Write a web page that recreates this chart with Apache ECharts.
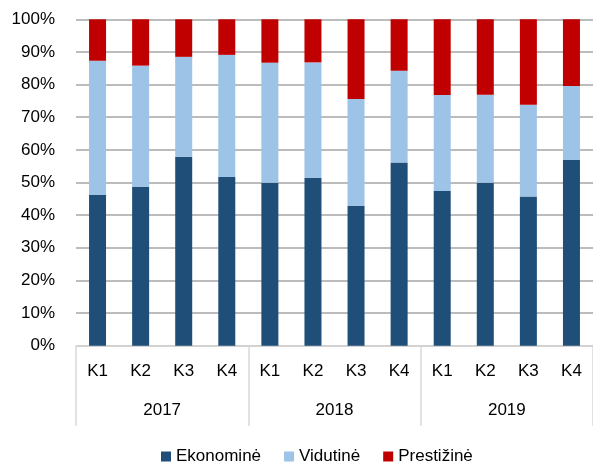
<!DOCTYPE html>
<html>
<head>
<meta charset="utf-8">
<script src="https://cdn.jsdelivr.net/npm/echarts@6/dist/echarts.min.js"></script>
<style>html,body{margin:0;padding:0;background:#fff}#c{width:593px;height:467px}</style>
</head>
<body>
<div id="c"></div>
<script>
var quarters = ['K1','K2','K3','K4','K1','K2','K3','K4','K1','K2','K3','K4'];
var years = ['2017','2018','2019'];
var ekonomine = [46.2, 48.6, 57.9, 51.7, 49.9, 51.4, 42.8, 56.1, 47.4, 49.9, 45.7, 56.9];
var vidutine  = [41.1, 37.2, 30.6, 37.4, 36.8, 35.4, 32.8, 28.1, 29.4, 27.0, 28.1, 22.7];
var prestizine = [12.7, 14.2, 11.5, 10.9, 13.3, 13.2, 24.4, 15.8, 23.2, 23.1, 26.2, 20.4];
var seriesNames = ['Ekonominė', 'Vidutinė', 'Prestižinė'];
var colors = ['#1f4e79', '#9dc3e6', '#c00000'];

var FONT = "'Liberation Sans',Arial,sans-serif";
var FS = 17;
var chart = echarts.init(document.getElementById('c'), null, {renderer: 'canvas'});
var values = [ekonomine, vidutine, prestizine];
chart.setOption({
  animation: false,
  textStyle: {fontFamily: FONT},
  grid: {left: 76, top: 19.3, width: 529, height: 326.4, containLabel: false},
  legend: {
    data: seriesNames,
    top: 448, left: 161,
    padding: 0,
    itemWidth: 10, itemHeight: 10, itemGap: 23,
    icon: 'rect',
    textStyle: {fontFamily: FONT, fontSize: FS, color: '#000'}
  },
  xAxis: [{
    type: 'category', data: quarters, position: 'bottom', offset: 0,
    axisLine: {show: true, lineStyle: {color: '#d9d9d9', width: 1.5}},
    axisTick: {show: false},
    axisLabel: {interval: 0, margin: 17, fontSize: FS, color: '#000', fontFamily: FONT}
  }, {
    type: 'category', data: years, position: 'bottom', offset: 0,
    axisLine: {show: false},
    axisTick: {show: true, interval: 0, length: 80, lineStyle: {color: '#d9d9d9', width: 1.5}},
    axisLabel: {interval: 0, margin: 56, fontSize: FS, color: '#000', fontFamily: FONT}
  }],
  yAxis: {
    type: 'value', min: 0, max: 100, interval: 10,
    axisLine: {show: false}, axisTick: {show: false},
    splitLine: {show: true, lineStyle: {color: '#a6a6a6', width: 1.5}},
    axisLabel: {formatter: '{value}%', margin: 21, fontSize: FS, color: '#000', fontFamily: FONT}
  },
  series: seriesNames.map(function (n, i) {
    return {
      name: n, type: 'bar', stack: 'total', xAxisIndex: 0,
      barWidth: 17, data: values[i],
      itemStyle: {color: colors[i]}
    };
  })
});
</script>
</body>
</html>
